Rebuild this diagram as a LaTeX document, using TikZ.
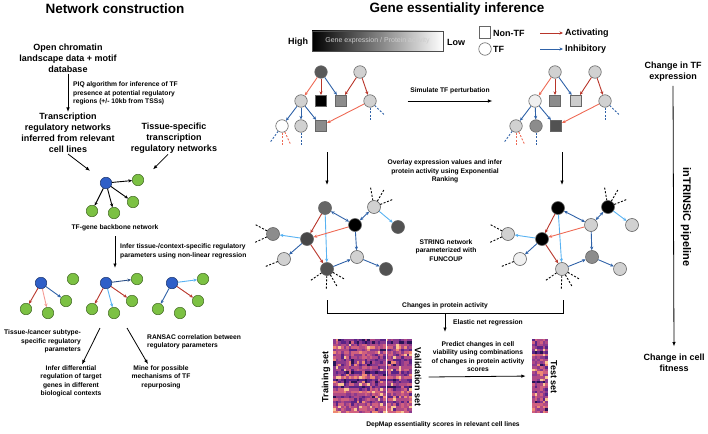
\documentclass[tikz,border=0pt]{standalone}
\usepackage{fontspec}
\setmainfont{Liberation Sans}
\usetikzlibrary{arrows.meta}

\definecolor{actred}{HTML}{B8352A}
\definecolor{actlight}{HTML}{EE6A55}
\definecolor{actpink}{HTML}{F49A94}
\definecolor{inhblue}{HTML}{2F62A8}
\definecolor{inhdark}{HTML}{2A4E86}
\definecolor{inhlight}{HTML}{58B2F2}
\definecolor{tfblue}{HTML}{2F5FC8}
\definecolor{genegreen}{HTML}{7CC143}
\definecolor{hm0}{HTML}{2A1458}
\definecolor{hm1}{HTML}{5A2486}
\definecolor{hm2}{HTML}{8A3A8E}
\definecolor{hm3}{HTML}{B04A86}
\definecolor{hm4}{HTML}{D0607E}
\definecolor{hm5}{HTML}{EE8A74}
\definecolor{hm6}{HTML}{FAC592}

\tikzset{
    >={Stealth[length=3.6pt,width=3.2pt]},
    headtxt/.style={font=\fontsize{13.5}{16}\selectfont\bfseries},
    bigtxt/.style={font=\fontsize{9}{11}\selectfont\bfseries,align=center,inner sep=1pt},
    smalltxt/.style={font=\fontsize{6.7}{8.5}\selectfont\bfseries,align=center,inner sep=1pt},
    flow/.style={-{Latex[length=4.5pt,width=3.5pt]},line width=0.8pt},
    tfnode/.style={circle,draw=tfblue!55!black,fill=tfblue,minimum size=11.5pt,inner sep=0pt,line width=0.5pt},
    genenode/.style={circle,draw=genegreen!55!black,fill=genegreen,minimum size=11.5pt,inner sep=0pt,line width=0.5pt},
    prot/.style={circle,draw=black!60,minimum size=12.5pt,inner sep=0pt,line width=0.6pt},
    protsq/.style={rectangle,draw=black!60,minimum size=11.5pt,inner sep=0pt,line width=0.6pt},
    reg/.style={->,line width=0.9pt},
    dotln/.style={dash pattern=on 2pt off 1.6pt,line width=0.9pt}
}

\begin{document}
\begin{tikzpicture}[x=1pt,y=1pt]
    \useasboundingbox (0,0) rectangle (708,-433);

    % titles
    \node[headtxt] (nettitle) at (115,-9) {Network construction};
    \node[headtxt] (genetitle) at (457,-9) {Gene essentiality inference};

    % network construction
    \node[bigtxt] (open) at (68,-58) {Open chromatin\\landscape data + motif\\database};
    \node[smalltxt,align=left,anchor=west] (piq) at (72,-93.5) {PIQ algorithm for inference of TF\\presence at potential regulatory\\regions (+/- 10kb from TSSs)};
    \node[bigtxt] (trn) at (68,-133) {Transcription\\regulatory networks\\inferred from relevant\\cell lines};
    \node[bigtxt] (tis) at (174,-138) {Tissue-specific\\transcription\\regulatory networks};

    \draw[flow] (open) -- (trn);

    \begin{scope}[every node/.style={genenode}]
        \node[tfnode] (b0) at (106,-183) {};
        \node (g01) at (138,-180) {};
        \node (g02) at (133,-202) {};
        \node (g03) at (92,-211) {};
        \node (g04) at (114,-213) {};
    \end{scope}
    \path[reg] (b0) edge (g01) edge (g02) edge (g03) edge (g04);

    \draw[flow,shorten >=14pt] (trn.south) -- (b0);
    \draw[flow] ([xshift=-6pt]tis.south) -- ++(-15,-15);

    \node[smalltxt] (bblab) at (115,-228) {TF-gene backbone network};
    \coordinate (bbend) at (115,-268);
    \draw[flow] ([yshift=-4pt]bblab.south) -- (bbend);
    \node[smalltxt,align=left,anchor=west] (ctx) at (119,-251.5) {Infer tissue-/context-specific regulatory\\parameters using non-linear regression};

    % three tissue-specific networks
    \begin{scope}[every node/.style={genenode}]
        \node[tfnode] (b1) at (41,-283) {};
        \node (g11) at (73,-279) {};
        \node (g12) at (66,-301) {};
        \node (g13) at (26,-309) {};
        \node (g14) at (48,-313) {};

        \node[tfnode] (b2) at (106,-283) {};
        \node (g21) at (137,-279) {};
        \node (g22) at (132,-301) {};
        \node (g23) at (92,-309) {};
        \node (g24) at (114,-313) {};

        \node[tfnode] (b3) at (172,-283) {};
        \node (g31) at (203,-279) {};
        \node (g32) at (198,-301) {};
        \node (g33) at (158,-309) {};
        \node (g34) at (180,-313) {};
    \end{scope}
    \path[reg] (b1) edge[actred] (g13) edge[actpink] (g14) edge[inhblue] (g12);
    \path[reg] (b2) edge[inhdark] (g21) edge[actred] (g22) edge[actred] (g23) edge[inhlight] (g24);
    \path[reg] (b3) edge[inhlight] (g31) edge[actred] (g32) edge[inhblue] (g33);

    \node[smalltxt,align=right,anchor=east] (tcs) at (82,-341.5) {Tissue-/cancer subtype-\\specific regulatory\\parameters};
    \node[smalltxt,align=left,anchor=west] (ransac) at (146,-342) {RANSAC correlation between\\regulatory parameters};
    \node[smalltxt] (diff) at (71,-381.5) {Infer differential\\regulation of target\\genes in different\\biological contexts};
    \node[smalltxt] (mine) at (161,-377) {Mine for possible\\mechanisms of TF\\repurposing};
    \coordinate (s1) at (100,-328);
    \coordinate (s2) at (127,-328);
    \draw[flow] (s1) -- ([xshift=11pt]diff.north);
    \draw[flow] (s2) -- ([xshift=-13pt]mine.north);

    % legend
    \node[bigtxt] (high) at (298,-42) {High};
    \node[draw=black!70,line width=0.8pt,minimum width=131pt,minimum height=20pt,inner sep=0pt,
          left color=black,middle color=black!80,right color=white,
          text=white!80!black,font=\fontsize{7}{8}\selectfont] (bar) at (377.5,-41) {Gene expression / Protein activity};
    \node[bigtxt] (low) at (456,-42) {Low};
    \node[protsq,fill=white] (legsq) at (485,-32.5) {};
    \node[prot,fill=white] (legci) at (485,-49) {};
    \node[bigtxt,anchor=west] (nontf) at (492,-33) {Non-TF};
    \node[bigtxt,anchor=west] (tflab) at (492,-49) {TF};
    \node[bigtxt,anchor=west] (act) at (564,-33) {Activating};
    \node[bigtxt,anchor=west] (inh) at (564,-49) {Inhibitory};
    \draw[reg,actred,shorten >=1pt] ([xshift=-24pt]act.west) -- (act.west);
    \draw[reg,inhblue,shorten >=1pt] ([xshift=-24pt]inh.west) -- (inh.west);

    % expression before perturbation
    \node[prot,fill=black!65] (a1) at (321,-72) {};
    \node[prot,fill=black!18] (a2) at (360,-72) {};
    \node[prot,fill=black!18] (a3) at (301,-101) {};
    \node[protsq,fill=black] (a4) at (321,-101) {};
    \node[protsq,fill=black!45] (a5) at (341,-101) {};
    \node[prot,fill=black!18] (a6) at (370,-101) {};
    \node[prot,fill=white] (a7) at (282,-126) {};
    \node[prot,fill=black!18] (a8) at (301,-126) {};
    \node[protsq,fill=black!45] (a9) at (321,-126) {};

    \path[reg] (a1) edge[actlight] (a3) edge[actred] (a4) edge[inhblue] (a5);
    \path[reg] (a2) edge[actred] (a5) edge[actred] (a6);
    \path[reg] (a3) edge[inhblue] (a7) edge[inhblue] (a8) edge[inhblue] (a9);
    \path[reg] (a6) edge[actlight] (a9);
    \foreach \n/\a/\col in {a7/234/inhblue,a7/270/actlight,a7/295/actlight,a8/270/inhblue,a6/270/inhblue,a6/316/inhblue}
        \draw[dotln,\col] (\n.\a) -- ++(\a:14);

    % expression after perturbation
    \node[prot,fill=black!18] (b1) at (555,-72) {};
    \node[prot,fill=black!18] (b2) at (595,-72) {};
    \node[prot,fill=black!6] (b3) at (535,-101) {};
    \node[protsq,fill=black!45] (b4) at (555,-101) {};
    \node[protsq,fill=black!20] (b5) at (576,-101) {};
    \node[prot,fill=black!18] (b6) at (605,-101) {};
    \node[prot,fill=black!18] (b7) at (516,-126) {};
    \node[prot,fill=black!45] (b8) at (536,-126) {};
    \node[protsq,fill=black!68] (b9) at (556,-126) {};

    \path[reg] (b1) edge[actlight] (b3) edge[actred] (b4) edge[inhblue] (b5);
    \path[reg] (b2) edge[actred] (b5) edge[actred] (b6);
    \path[reg] (b3) edge[inhblue] (b7) edge[inhblue] (b8) edge[inhblue] (b9);
    \path[reg] (b6) edge[actlight] (b9);
    \foreach \n/\a/\col in {b7/234/inhblue,b7/270/actlight,b7/295/actlight,b8/270/inhblue,b6/270/inhblue,b6/316/inhblue}
        \draw[dotln,\col] (\n.\a) -- ++(\a:14);

    \node[smalltxt] (sim) at (450,-91) {Simulate TF perturbation};
    \draw[flow,shorten <=31pt,shorten >=36pt] (a6) -- (b3);

    \draw[flow] ([xshift=6pt,yshift=-20pt]a9.south) -- ++(0,-33);
    \draw[flow] ([xshift=6pt,yshift=-20pt]b9.south) -- ++(0,-33);
    \node[smalltxt] (over) at (445,-171.5) {Overlay expression values and infer\\protein activity using Exponential\\Ranking};

    % protein activity networks
    \begin{scope}[every node/.style={prot,minimum size=13pt}]
        \node[fill=black!60] (c1) at (325,-208) {};
        \node[fill=black!18] (c2) at (374,-207) {};
        \node[fill=black] (c3) at (355,-225) {};
        \node[fill=black!68] (c4) at (398,-227) {};
        \node[fill=black!45] (c5) at (273,-234) {};
        \node[fill=black!72] (c6) at (307,-239) {};
        \node[fill=black!18] (c7) at (284,-259) {};
        \node[fill=black!18] (c8) at (357,-257) {};
        \node[fill=black!68] (c9) at (327,-269) {};
        \node[fill=black!68] (c10) at (386,-269) {};

        \node[fill=black] (d1) at (558,-208) {};
        \node[fill=black] (d2) at (608,-207) {};
        \node[fill=black!18] (d3) at (591,-225) {};
        \node[fill=black!18] (d4) at (632,-225) {};
        \node[fill=black!18] (d5) at (508,-234) {};
        \node[fill=black] (d6) at (542,-239) {};
        \node[fill=black!6] (d7) at (520,-259) {};
        \node[fill=black!45] (d8) at (592,-257) {};
        \node[fill=black!18] (d9) at (562,-269) {};
        \node[fill=black!18] (d10) at (620,-269) {};
    \end{scope}

    \foreach \p in {c,d} {
        \path[reg] (\p1) edge[<->,inhblue] (\p3) edge[actred] (\p6) edge[inhlight] (\p9);
        \path[reg] (\p2) edge[<->,inhblue] (\p3) edge[inhlight] (\p4);
        \path[reg] (\p3) edge[actlight] (\p6) edge[inhblue] (\p8);
        \path[reg] (\p6) edge[inhlight] (\p5) edge[inhblue] (\p7) edge[actred] (\p9);
        \path[reg] (\p9) edge[inhblue] (\p8);
        \path[reg] (\p8) edge[inhblue] (\p10);
        \foreach \a in {100,60,22} \draw[dotln] (\p2.\a) -- ++(\a:14);
        \foreach \a in {152,205} \draw[dotln] (\p5.\a) -- ++(\a:14);
        \draw[dotln] (\p7.202) -- ++(202:14);
        \foreach \a in {215,268,300,330} \draw[dotln] (\p9.\a) -- ++(\a:13);
    }

    \node[smalltxt] (str) at (446,-250.5) {STRING network\\parameterized with\\FUNCOUP};

    % bracket
    \coordinate (brL) at (327,-300);
    \coordinate (brR) at (563,-300);
    \coordinate (brM) at (445,-313);
    \coordinate (enetend) at (445,-332);
    \draw[line width=0.9pt] (brL) -- ++(0,-13) -| (brR);
    \node[smalltxt] (chg) at (445,-306) {Changes in protein activity};
    \draw[flow] (brM) -- (enetend);
    \node[smalltxt,anchor=west] (enet) at (452,-323) {Elastic net regression};

    % heatmaps
    \pgfmathsetseed{11}
    \foreach \row in {0,...,29} {
        \pgfmathtruncatemacro{\rb}{{1,2,3,3,3,3,4,4,2,3}[random(0,9)]}
        \foreach \col in {0,...,29} {
            \pgfmathtruncatemacro{\hv}{max(0,min(6,\rb+{-2,-1,-1,0,0,0,0,1,1,3}[random(0,9)]))}
            \fill[fill=hm\hv] ({333+\col*2.63},{-339-\row*2.47}) rectangle ++(2.7,-2.55);
        }
        \pgfmathtruncatemacro{\rt}{{1,2,3,3,3,3,4,4,2,3}[random(0,9)]}
        \foreach \col in {0,...,5} {
            \pgfmathtruncatemacro{\hv}{max(0,min(6,\rt+{-2,-1,-1,0,0,0,0,1,1,3}[random(0,9)]))}
            \fill[fill=hm\hv] ({532+\col*2.67},{-339-\row*2.47}) rectangle ++(2.75,-2.55);
        }
    }
    \draw[white,line width=1.3pt] (386.3,-338.5) -- (386.3,-413.5);

    \node[inner sep=0pt,minimum width=79pt,minimum height=74pt] (trainbox) at (372.5,-376) {};
    \node[inner sep=0pt,minimum width=16pt,minimum height=74pt] (testbox) at (540,-376) {};
    \node[bigtxt,rotate=90] (trlab) at (326,-377) {Training set};
    \node[bigtxt,rotate=-90] (vlab) at (418,-377) {Validation set};
    \node[bigtxt,rotate=-90] (tlab) at (554,-377) {Test set};
    \draw[flow,shorten >=6pt] ([xshift=6pt]vlab.north) -- (testbox.west);

    \node[smalltxt] (pred) at (478,-356.5) {Predict changes in cell\\viability using combinations\\of changes in protein activity\\scores};
    \node[smalltxt] (dep) at (443,-425) {DepMap essentiality scores in relevant cell lines};

    % pipeline
    \node[bigtxt] (tfchg) at (673,-72) {Change in TF\\expression};
    \node[bigtxt] (fitchg) at (674,-362.5) {Change in cell\\fitness};
    \draw[flow,shorten <=3pt,shorten >=6pt] (tfchg.south) -- (fitchg.north);
    \node[font=\fontsize{11}{13}\selectfont\bfseries,rotate=-90] (pipe) at (686,-217) {inTRINSiC pipeline};

\end{tikzpicture}
\end{document}
